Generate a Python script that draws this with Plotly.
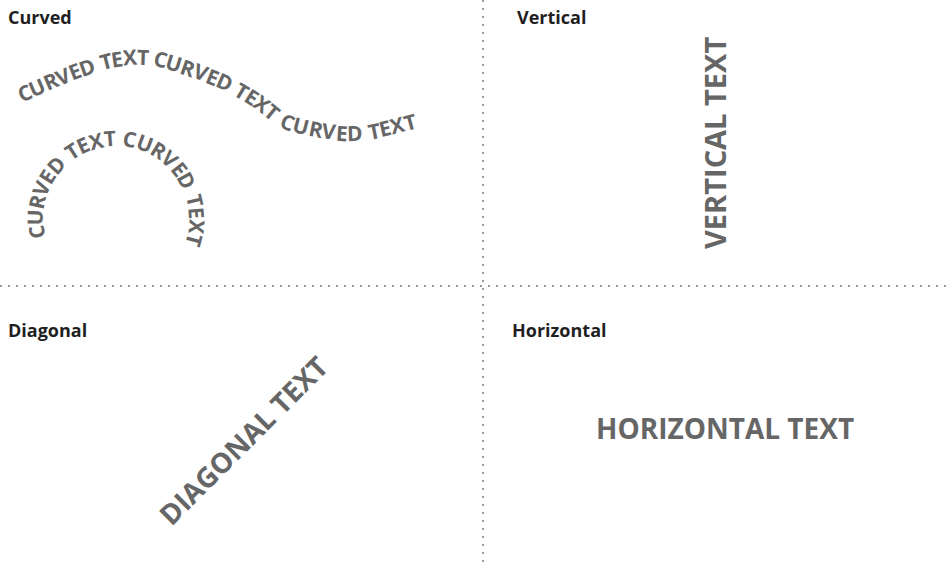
import math
import plotly.graph_objects as go

# ---------------- content ----------------
panel_titles = ["Curved", "Vertical", "Diagonal", "Horizontal"]
wave_text = "CURVED TEXT CURVED TEXT CURVED TEXT"
arc_text = "CURVED TEXT CURVED TEXT"
vertical_text = "VERTICAL TEXT"
diagonal_text = "DIAGONAL TEXT"
horizontal_text = "HORIZONTAL TEXT"

# ---------------- layout constants ----------------
W, H = 951, 563
FONT = "Open Sans"
TEXT_GREY = "#666666"
TITLE_COL = "#1f1f1f"
DOT_COL = "#9a9a9a"
DIV_X, DIV_Y = 483, 286

title_pos = [(6, 17), (515, 17), (6, 330), (510, 330)]
TITLE_SIZE = 18

CURVE_SIZE = 21
BIG_SIZE = 28

# wave centre-line control points (pixels)
wave_ctrl = [(17, 96), (84, 68), (123, 58), (163, 60), (223, 81),
             (258, 101), (291, 123), (354, 133), (417, 120)]
# arc (pixels)
ARC_CX, ARC_CY, ARC_R = 116, 219, 81
ARC_SPACING = 1.0
ARC_CENTER_DEG = -87.5

# approximate advance widths (em) for bold sans capitals
ADV = {" ": 0.26, "A": 0.687, "C": 0.635, "D": 0.716, "E": 0.541, "G": 0.718,
       "H": 0.746, "I": 0.342, "L": 0.548, "N": 0.794, "O": 0.781, "R": 0.656,
       "T": 0.581, "U": 0.731, "V": 0.65, "X": 0.654, "Z": 0.584}


def catmull(points, steps=40):
    pts = [points[0]] + list(points) + [points[-1]]
    out = []
    for i in range(1, len(pts) - 2):
        p0, p1, p2, p3 = pts[i - 1], pts[i], pts[i + 1], pts[i + 2]
        for k in range(steps):
            t = k / steps
            t2, t3 = t * t, t * t * t
            x = 0.5 * ((2 * p1[0]) + (-p0[0] + p2[0]) * t +
                       (2 * p0[0] - 5 * p1[0] + 4 * p2[0] - p3[0]) * t2 +
                       (-p0[0] + 3 * p1[0] - 3 * p2[0] + p3[0]) * t3)
            y = 0.5 * ((2 * p1[1]) + (-p0[1] + p2[1]) * t +
                       (2 * p0[1] - 5 * p1[1] + 4 * p2[1] - p3[1]) * t2 +
                       (-p0[1] + 3 * p1[1] - 3 * p2[1] + p3[1]) * t3)
            out.append((x, y))
    out.append(points[-1])
    return out


def along(path, s):
    acc = 0.0
    for i in range(len(path) - 1):
        (x0, y0), (x1, y1) = path[i], path[i + 1]
        d = math.hypot(x1 - x0, y1 - y0)
        if acc + d >= s or i == len(path) - 2:
            f = 0 if d == 0 else (s - acc) / d
            ang = math.degrees(math.atan2(y1 - y0, x1 - x0))
            return x0 + f * (x1 - x0), y0 + f * (y1 - y0), ang
        acc += d


def path_len(path):
    return sum(math.hypot(path[i + 1][0] - path[i][0], path[i + 1][1] - path[i][1])
               for i in range(len(path) - 1))


annotations = []


def char_ann(ch, x, y, ang, size):
    annotations.append(dict(
        text=ch, x=x, y=y, xref="x", yref="y", showarrow=False,
        xanchor="center", yanchor="middle", textangle=ang,
        font=dict(family=FONT, size=size, color=TEXT_GREY, weight=700),
        borderpad=0))


# wave text
wave_path = catmull(wave_ctrl)
L = path_len(wave_path)
widths = [ADV.get(c, 0.6) * CURVE_SIZE for c in wave_text]
total = sum(widths)
s = (L - total) / 2
for ch, w in zip(wave_text, widths):
    x, y, a = along(wave_path, s + w / 2)
    if ch != " ":
        char_ann(ch, x, y, a, CURVE_SIZE)
    s += w

# arc text
widths = [ADV.get(c, 0.6) * CURVE_SIZE + ARC_SPACING for c in arc_text]
total = sum(widths)
s = -total / 2
for ch, w in zip(arc_text, widths):
    theta = ARC_CENTER_DEG + math.degrees((s + w / 2) / ARC_R)
    tr = math.radians(theta)
    x = ARC_CX + ARC_R * math.cos(tr)
    y = ARC_CY + ARC_R * math.sin(tr)
    if ch != " ":
        char_ann(ch, x, y, theta + 90, CURVE_SIZE)
    s += w

# straight big texts
big = [(vertical_text, 714, 143, -90, 29),
       (diagonal_text, 243, 440, -45, BIG_SIZE),
       (horizontal_text, 725, 428, 0, BIG_SIZE)]
for txt, x, y, ang, sz in big:
    annotations.append(dict(
        text=txt, x=x, y=y, xref="x", yref="y", showarrow=False,
        xanchor="center", yanchor="middle", textangle=ang,
        font=dict(family=FONT, size=sz, color=TEXT_GREY, weight=700)))

# titles
for t, (x, y) in zip(panel_titles, title_pos):
    annotations.append(dict(
        text=t, x=x, y=y, xref="x", yref="y", showarrow=False,
        xanchor="left", yanchor="middle",
        font=dict(family=FONT, size=TITLE_SIZE, color=TITLE_COL, weight=700)))

shapes = [
    dict(type="line", xref="x", yref="y", x0=DIV_X, x1=DIV_X, y0=0, y1=H,
         line=dict(color=DOT_COL, width=2, dash="2px,6px")),
    dict(type="line", xref="x", yref="y", x0=0, x1=W, y0=DIV_Y, y1=DIV_Y,
         line=dict(color=DOT_COL, width=2, dash="2px,6px")),
]

fig = go.Figure(go.Scatter(x=[], y=[], hoverinfo="skip", showlegend=False))
fig.update_layout(
    width=W, height=H, margin=dict(l=0, r=0, t=0, b=0),
    paper_bgcolor="white", plot_bgcolor="white",
    xaxis=dict(range=[0, W], visible=False, fixedrange=True),
    yaxis=dict(range=[H, 0], visible=False, fixedrange=True),
    annotations=annotations, shapes=shapes, showlegend=False,
)
fig.write_html(
    "out.html",
    config={"displayModeBar": False},
    post_script="document.body.style.margin='0';document.body.style.overflow='hidden';",
)
